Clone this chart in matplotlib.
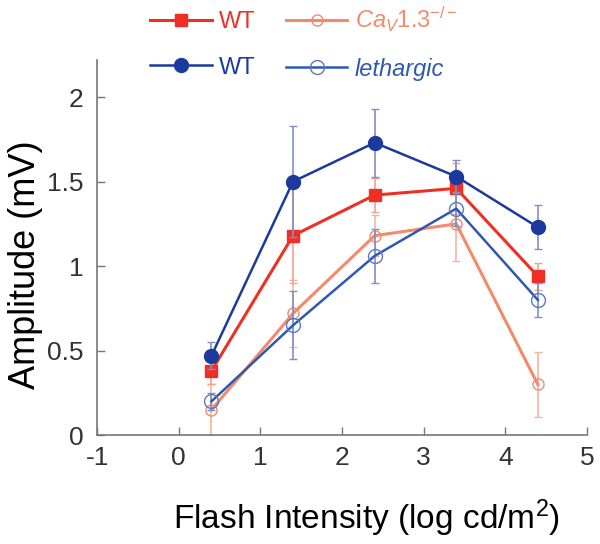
import matplotlib

matplotlib.use("Agg")
import matplotlib.pyplot as plt
from matplotlib.lines import Line2D

plt.rcParams["font.family"] = ["Liberation Sans", "DejaVu Sans"]
plt.rcParams["axes.unicode_minus"] = False
plt.rcParams["mathtext.fontset"] = "custom"
plt.rcParams["mathtext.rm"] = "Liberation Sans"
plt.rcParams["mathtext.it"] = "Liberation Sans:italic"

# flash intensity (log cd/m^2)
intensity = [0.4, 1.4, 2.4, 3.4, 4.4]

# ERG amplitude (mV) and SEM
wt_cav = [0.38, 1.18, 1.42, 1.46, 0.94]
wt_cav_err = [0.08, 0.28, 0.10, 0.15, 0.08]
cav_ko = [0.15, 0.72, 1.18, 1.25, 0.30]
cav_ko_err = [0.15, 0.20, 0.12, 0.22, 0.19]
wt_leth = [0.47, 1.50, 1.73, 1.53, 1.23]
wt_leth_err = [0.08, 0.33, 0.20, 0.10, 0.13]
leth = [0.20, 0.65, 1.06, 1.34, 0.80]
leth_err = [0.05, 0.20, 0.16, 0.10, 0.10]

RED = "#ee3024"
SALMON = "#f28a6c"
NAVY = "#1c3a9e"
BLUE = "#2f58b3"

fig = plt.figure(figsize=(6, 5.44), dpi=100)
ax = fig.add_axes([0.162, 0.2, 0.816, 0.69])

ax.errorbar(intensity, cav_ko, yerr=cav_ko_err, color=SALMON, lw=2.2,
            marker="o", ms=8, mfc="none", mec=SALMON, mew=1.0,
            ecolor="#f6b4a0", elinewidth=1.2, capsize=3, zorder=2)
ax.errorbar(intensity, wt_cav, yerr=wt_cav_err, color=RED, lw=2.2,
            marker="s", ms=8, ecolor="#f6a090", elinewidth=1.2, capsize=3,
            zorder=3)
ax.errorbar(intensity, leth, yerr=leth_err, color=BLUE, lw=1.8,
            marker="o", ms=10, mfc="none", mec="#5a78c4", mew=1.0,
            ecolor="#7f8fc8", elinewidth=1.2, capsize=3, zorder=4)
ax.errorbar(intensity, wt_leth, yerr=wt_leth_err, color=NAVY, lw=1.8,
            marker="o", ms=10, ecolor="#7f8fc8", elinewidth=1.2, capsize=3,
            zorder=5)

ax.set_xlim(-1, 5)
ax.set_ylim(0, 2.22)
ax.set_xticks([-1, 0, 1, 2, 3, 4, 5])
ax.set_yticks([0, 0.5, 1, 1.5, 2])
ax.set_yticklabels(["0", "0.5", "1", "1.5", "2"])
ax.tick_params(direction="in", length=6, width=1, color="#777777",
               labelsize=19, labelcolor="#333333")
ax.tick_params(axis="y", pad=10)
ax.tick_params(axis="x", pad=8)
for side in ("top", "right"):
    ax.spines[side].set_visible(False)
for side in ("left", "bottom"):
    ax.spines[side].set_color("#777777")
    ax.spines[side].set_linewidth(1.2)

ax.set_xlabel("Flash Intensity (log cd/m$^2$)", fontsize=24)
ax.xaxis.set_label_coords(0.55, -0.165)
ax.set_ylabel("Amplitude (mV)", fontsize=26)
ax.yaxis.set_label_coords(-0.11, 0.453)

handles = [
    Line2D([], [], color=RED, lw=2.2, marker="s", ms=8),
    Line2D([], [], color=NAVY, lw=1.8, marker="o", ms=10),
    Line2D([], [], color=SALMON, lw=2.2, marker="o", ms=8, mfc="none"),
    Line2D([], [], color=BLUE, lw=1.8, marker="o", ms=10, mfc="none",
           mec="#5a78c4"),
]
labels = ["WT", "WT", r"$\mathit{Ca_V1.3^{-/-}}$", "lethargic"]
leg = fig.legend(handles, labels, ncol=2, frameon=False, fontsize=17,
                 loc="upper left", bbox_to_anchor=(0.215, 1.03),
                 handlelength=2.6, columnspacing=1.3, labelspacing=1.0,
                 handletextpad=0.3)
for txt, c in zip(leg.get_texts(), [RED, NAVY, SALMON, BLUE]):
    txt.set_color(c)
leg.get_texts()[3].set_fontstyle("italic")

fig.savefig("out.png", dpi=100)
